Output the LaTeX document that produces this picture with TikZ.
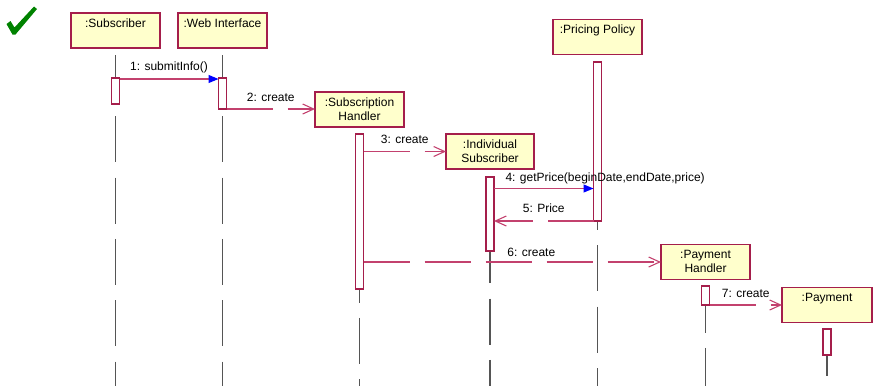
\documentclass[tikz,border=0pt]{standalone}
\usepackage{fontspec}
\setmainfont{Liberation Sans}
\usetikzlibrary{arrows.meta,calc}
\definecolor{objline}{RGB}{165,30,75}
\definecolor{msgline}{RGB}{195,65,110}
\definecolor{objfill}{RGB}{255,255,204}
\definecolor{lifecol}{RGB}{85,85,85}
\definecolor{checkgreen}{RGB}{0,130,0}
\begin{document}
\begin{tikzpicture}[x=1pt,y=-1pt,
  obj/.style={draw=objline, fill=objfill, line width=1.2pt, minimum width=89pt, minimum height=35pt, inner sep=0pt, outer sep=0pt},
  objtext/.style={anchor=north, inner sep=0pt, align=center, font=\fontsize{12}{14.5}\selectfont, yshift=-5.5pt},
  act/.style={draw=objline, fill=white, line width=1.2pt, minimum width=8pt, inner sep=0pt, outer sep=0pt},
  life/.style={draw=lifecol, line width=1.3pt, dash pattern=on 46pt off 15.3pt},
  msg/.style={draw=msgline, line width=1.1pt},
  dmsg/.style={msg, dash pattern=on 46pt off 15pt, -{Straight Barb[length=11pt,width=10pt,line width=1.1pt]}},
  smsg/.style={msg, -{Triangle[length=10pt,width=8pt,color=blue]}},
  lbl/.style={anchor=base, inner sep=0pt, font=\fontsize{12}{14.5}\selectfont}
]
\useasboundingbox (0,0) rectangle (874,386);
\coordinate (bottom) at (0,386);

% check mark
\fill[checkgreen] (6.5,24) -- (10.5,21) -- (14.5,27.5) -- (34,6.5) -- (37,9) -- (15.5,34.5) -- (12.5,34.5) -- cycle;

% objects
\node[obj] (sub) at (115.5,30.5) {};
\node[obj] (web) at (222.5,30.5) {};
\node[obj] (sh)  at (359.5,109.5) {};
\node[obj, minimum width=88pt] (is) at (490,151.5) {};
\node[obj] (pp)  at (597.5,37) {};
\node[obj] (ph)  at (705.5,262) {};
\node[obj, minimum width=90pt] (pay) at (827,305) {};

\node[objtext] (sub-t) at (sub.north) {:Subscriber};
\node[objtext] (web-t) at (web.north) {:Web Interface};
\node[objtext] (sh-t)  at (sh.north)  {:Subscription\\Handler};
\node[objtext] (is-t)  at (is.north)  {:Individual\\Subscriber};
\node[objtext] (pp-t)  at (pp.north)  {:Pricing Policy};
\node[objtext] (ph-t)  at (ph.north)  {:Payment\\Handler};
\node[objtext] (pay-t) at (pay.north) {:Payment};

% lifelines
\foreach \o in {sub,web,sh,is,pp,ph,pay}
  \draw[life] ($(\o.south)+(0,7)$) -- (\o.south |- bottom);

% activations
\node[act, minimum height=26pt]  (asub) at (sub |- 0,91) {};
\node[act, minimum height=31pt]  (aweb) at (web |- 0,93.5) {};
\node[act, minimum height=155pt] (ash)  at (sh |- 0,211.5) {};
\node[act, minimum height=74pt]  (ais)  at (is |- 0,214) {};
\node[act, minimum height=159pt] (app)  at (pp |- 0,141.5) {};
\node[act, minimum height=19pt]  (aph)  at (ph |- 0,295.5) {};
\node[act, minimum height=26pt]  (apay) at (pay |- 0,342) {};

% messages
\draw[smsg] (asub.east |- 0,79) -- (aweb.west |- 0,79)
  node[lbl, midway, yshift=9pt] (m1) {1: submitInfo()};
\draw[dmsg] (aweb.south east) -- (aweb.south east -| sh.west)
  node[lbl, midway, yshift=8pt] (m2) {2: create};
\draw[dmsg] (ash.east |- is.west) -- (is.west)
  node[lbl, midway, yshift=8pt] (m3) {3: create};
\draw[smsg] (ais.east |- 0,188.5) -- (app.west |- 0,188.5)
  node[lbl, pos=0.11, anchor=base west, yshift=7pt] (m4) {4: getPrice(beginDate,endDate,price)};
\draw[dmsg] (app.south west) -- (app.south west -| ais.east)
  node[lbl, midway, yshift=9pt] (m5) {5: Price};
\draw[dmsg] (ash.east |- ph.west) -- (ph.west)
  node[lbl, pos=0.564, yshift=6pt] (m6) {6: create};
\draw[dmsg] (aph.south east) -- (aph.south east -| pay.west)
  node[lbl, midway, yshift=8pt] (m7) {7: create};
\end{tikzpicture}
\end{document}
